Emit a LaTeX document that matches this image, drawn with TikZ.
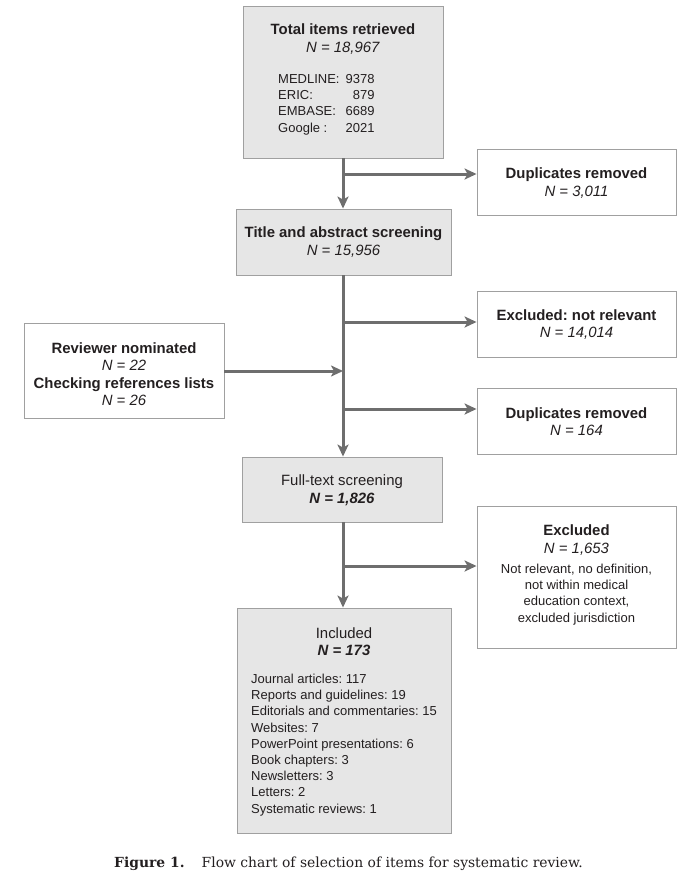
\documentclass[tikz,border=0pt]{standalone}
\usepackage{fontspec}
\setmainfont{Liberation Serif}
\newfontfamily\hv{Liberation Sans}
\newfontfamily\capfont{DejaVu Serif}
\usetikzlibrary{arrows.meta}
\definecolor{boxgray}{HTML}{E6E6E6}
\definecolor{edgegray}{HTML}{A0A0A0}
\definecolor{arrgray}{HTML}{6E6E6E}
\definecolor{txt}{HTML}{231F20}
\frenchspacing
\begin{document}
\begin{tikzpicture}[x=1pt,y=-1pt,
  boxw/.style={draw=edgegray, line width=0.9pt, fill=white, inner sep=0pt},
  boxg/.style={draw=edgegray, line width=0.9pt, fill=boxgray, inner sep=0pt},
  head/.style={text=txt, align=center, inner sep=0pt, font=\hv\fontsize{14.9}{17.5}\selectfont},
  body/.style={text=txt, inner sep=0pt, font=\hv\fontsize{13}{16.2}\selectfont},
  arr/.style={draw=arrgray, line width=3pt, -{Stealth[length=12pt,width=11pt,inset=3pt]}},
  ln/.style={draw=arrgray, line width=3pt}]
\useasboundingbox (0,0) rectangle (683,878);
% boxes
\node[boxg, minimum width=200pt, minimum height=152pt] (total) at (343,82) {};
\node[boxw, minimum width=199pt, minimum height=66pt] (dup1) at (576.5,182) {};
\node[boxg, minimum width=215pt, minimum height=66pt] (title) at (343.5,242) {};
\node[boxw, minimum width=199pt, minimum height=66pt] (excl1) at (576.5,324) {};
\node[boxw, minimum width=200pt, minimum height=95pt] (rev) at (124,370.5) {};
\node[boxw, minimum width=199pt, minimum height=66pt] (dup2) at (576.5,421) {};
\node[boxg, minimum width=200pt, minimum height=65pt] (full) at (342,489.5) {};
\node[boxw, minimum width=199pt, minimum height=142pt] (excl2) at (576.5,577) {};
\node[boxg, minimum width=214pt, minimum height=225pt] (incl) at (344,720.5) {};
% texts
\node[head] (totalT) at (343,39) {\textbf{Total items retrieved}\\\textit{N = 18,967}};
\node[body, anchor=west] (totalL) at (278,104.5) {\begin{tabular}{@{}l@{\hspace{6pt}}r@{}}MEDLINE: & 9378\\ERIC: & 879\\EMBASE: & 6689\\Google : & 2021\end{tabular}};
\node[head] (dup1T) at (576.5,183) {\textbf{Duplicates removed}\\\textit{N = 3,011}};
\node[head] (titleT) at (343.5,242) {\textbf{Title and abstract screening}\\\textit{N = 15,956}};
\node[head] (excl1T) at (576.5,324.5) {\textbf{Excluded: not relevant}\\\textit{N = 14,014}};
\node[head] (revT) at (124,374) {\textbf{Reviewer nominated}\\\textit{N = 22}\\\textbf{Checking references lists}\\\textit{N = 26}};
\node[head] (dup2T) at (576.5,421.5) {\textbf{Duplicates removed}\\\textit{N = 164}};
\node[head] (fullT) at (342,490) {Full-text screening\\\textbf{\textit{N = 1,826}}};
\node[head] (excl2T) at (576.5,540) {\textbf{Excluded}\\\textit{N = 1,653}};
\node[body, align=center] (excl2B) at (576.5,594.5) {Not relevant, no definition,\\not within medical\\education context,\\excluded jurisdiction};
\node[head] (inclT) at (344,641.5) {Included\\\textbf{\textit{N = 173}}};
\node[body, align=left, anchor=west] (inclL) at (251,745) {Journal articles: 117\\Reports and guidelines: 19\\Editorials and commentaries: 15\\Websites: 7\\PowerPoint presentations: 6\\Book chapters: 3\\Newsletters: 3\\Letters: 2\\Systematic reviews: 1};
% connectors
\coordinate (s1) at (343,174);
\coordinate (s2) at (343,322);
\coordinate (s3) at (343,371);
\coordinate (s4) at (343,409);
\coordinate (s5) at (343,566);
\draw[arr] (total.south -| s1) -- (title.north -| s1);
\draw[arr] (s1) -- (s1 -| dup1.west);
\draw[arr] (title.south -| s1) -- (full.north -| s1);
\draw[arr] (s2) -- (s2 -| excl1.west);
\draw[arr] (s4) -- (s4 -| dup2.west);
\draw[arr] (rev.east |- s3) -- (s3);
\draw[arr] (full.south -| s1) -- (incl.north -| s1);
\draw[arr] (s5) -- (s5 -| excl2.west);
% caption
\node[inner sep=0pt, anchor=base, text=txt, font=\capfont\fontsize{13.9}{16}\selectfont] (cap) at (348.5,867) {\textbf{Figure 1.}\hspace{17pt}Flow chart of selection of items for systematic review.};
\end{tikzpicture}
\end{document}
